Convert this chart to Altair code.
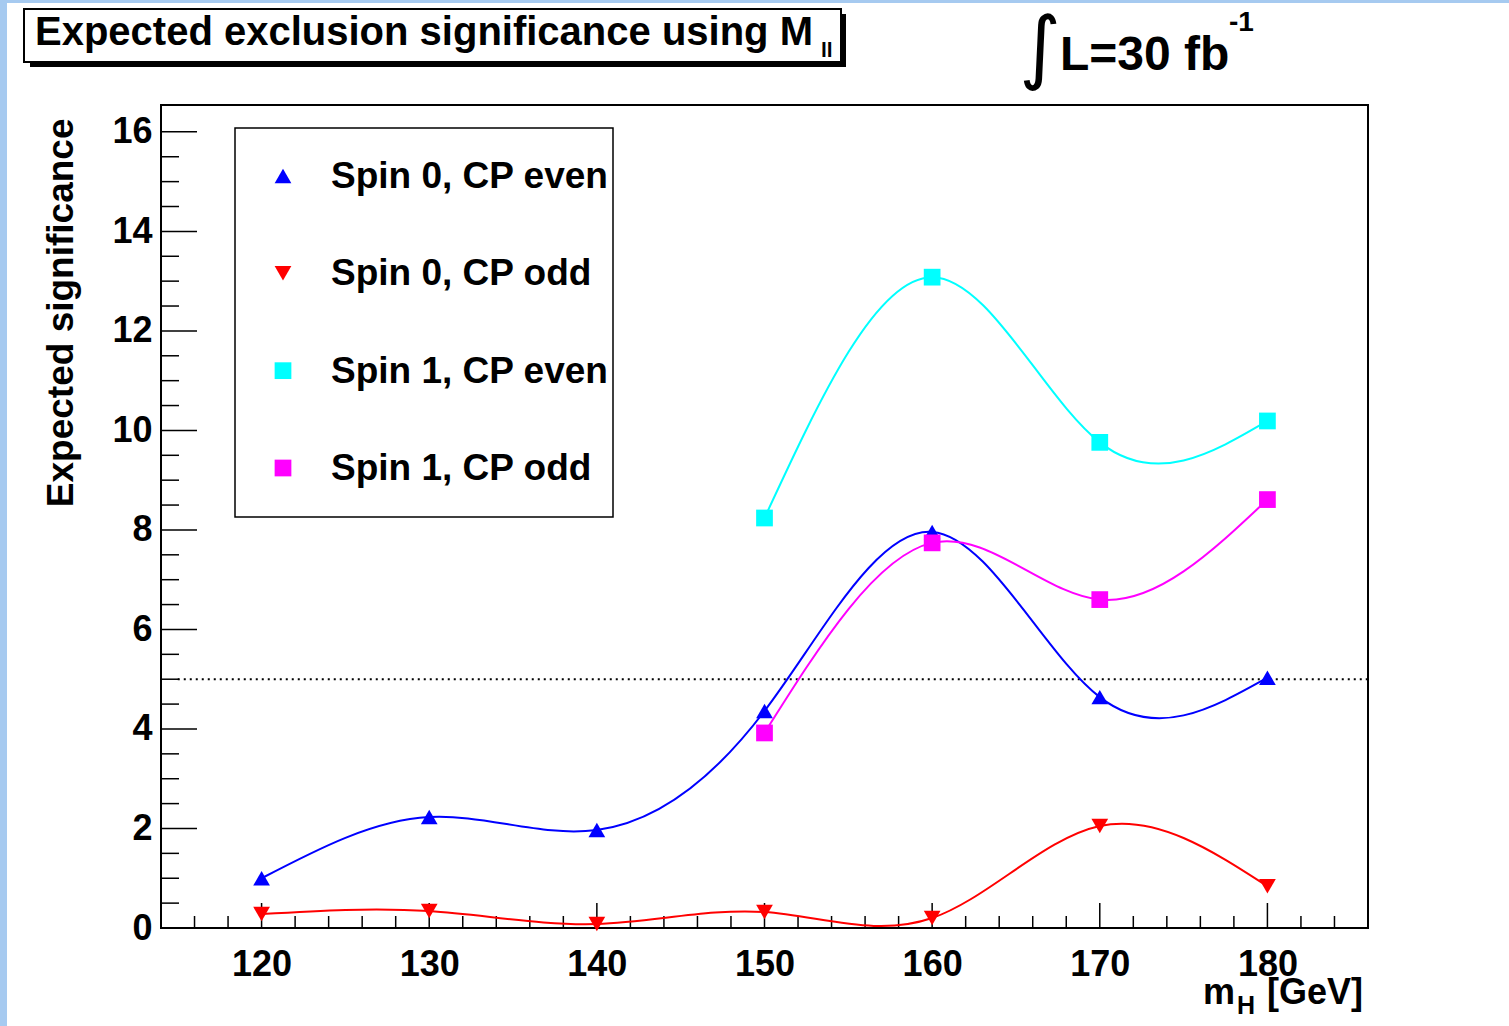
import altair as alt
import pandas as pd

# ---------------- data ----------------
masses = [120, 130, 140, 150, 160, 170, 180]
spin0_even = [1.00, 2.23, 1.97, 4.36, 7.96, 4.64, 5.03]
spin0_odd = [0.28, 0.34, 0.08, 0.32, 0.20, 2.05, 0.84]
masses_spin1 = [150, 160, 170, 180]
spin1_even = [8.24, 13.08, 9.76, 10.19]
spin1_odd = [3.92, 7.74, 6.60, 8.61]

series_names = ["Spin 0, CP even", "Spin 0, CP odd", "Spin 1, CP even", "Spin 1, CP odd"]
series_colors = ["#0000ff", "#ff0000", "#00ffff", "#ff00ff"]
series_shapes = ["triangle-up", "triangle-down", "square", "square"]

x_major = [120, 130, 140, 150, 160, 170, 180]
x_minor = [v for v in range(116, 186, 2) if v % 10 != 0]
y_major = [0, 2, 4, 6, 8, 10, 12, 14, 16]
y_minor = [v / 2 for v in range(1, 33) if v % 4 != 0]
threshold = 5
threshold_x = [115, 186]

x_domain = [114, 186]
y_domain = [0, 16.54]

# ---------------- layout ----------------
W, H = 1207, 823
PL, PT = 161, 105
FONT = "Liberation Sans"

rows = []
for s, xs_, ys_ in [
    (series_names[0], masses, spin0_even),
    (series_names[1], masses, spin0_odd),
    (series_names[2], masses_spin1, spin1_even),
    (series_names[3], masses_spin1, spin1_odd),
]:
    for a, b in zip(xs_, ys_):
        rows.append({"series": s, "line_series": s, "mass": a, "sig": b})
df = pd.DataFrame(rows)
legend_df = pd.DataFrame({"series": series_names})

xscale = alt.Scale(domain=x_domain, nice=False, zero=False)
yscale = alt.Scale(domain=y_domain, nice=False, zero=False)
color_scale = alt.Scale(domain=series_names, range=series_colors)
shape_scale = alt.Scale(domain=series_names, range=series_shapes)

xaxis = alt.Axis(values=x_major, title=None, ticks=False, domain=False, grid=False,
                 labelFont=FONT, labelFontSize=36, labelFontWeight="bold", labelColor="black",
                 labelPadding=47, labelBaseline="alphabetic", tickSize=0, labelFlush=False)
yaxis = alt.Axis(values=y_major, ticks=False, domain=False, grid=False, tickSize=0,
                 labelFont=FONT, labelFontSize=36, labelFontWeight="bold", labelColor="black",
                 labelPadding=9, labelBaseline="middle", labelFlush=False,
                 title="Expected significance", titleFont=FONT, titleFontSize=37,
                 titleFontWeight="bold", titleColor="black", titleAngle=270,
                 titleAlign="right", titleBaseline="alphabetic", titleX=-89, titleY=13)

X = lambda f: alt.X(f, scale=xscale, axis=xaxis)
Y = lambda f: alt.Y(f, scale=yscale, axis=yaxis)

one = pd.DataFrame({"a": [0]})

# decorations (outside plot)
strip_left = alt.Chart(one).mark_rect(color="#a6caf0").encode(
    x=alt.value(-PL), x2=alt.value(-PL + 7), y=alt.value(-PT), y2=alt.value(1026 - PT))
strip_top = alt.Chart(one).mark_rect(color="#a6caf0").encode(
    x=alt.value(-PL), x2=alt.value(1509 - PL), y=alt.value(-PT), y2=alt.value(-PT + 3))
title_shadow = alt.Chart(one).mark_rect(color="black").encode(
    x=alt.value(30 - PL), x2=alt.value(846 - PL), y=alt.value(14 - PT), y2=alt.value(67 - PT))
title_box = alt.Chart(one).mark_rect(fill="white", stroke="black", strokeWidth=2).encode(
    x=alt.value(24 - PL), x2=alt.value(841 - PL), y=alt.value(9 - PT), y2=alt.value(62 - PT))
legend_box = alt.Chart(one).mark_rect(fill="white", stroke="black", strokeWidth=1.5).encode(
    x=alt.value(235 - PL), x2=alt.value(613 - PL), y=alt.value(128 - PT), y2=alt.value(517 - PT))


def txt(text, x, y, size, align="left", font=FONT, weight="bold"):
    return alt.Chart(one).mark_text(
        text=text, font=font, fontSize=size, fontWeight=weight, align=align,
        baseline="alphabetic", color="black").encode(x=alt.value(x - PL), y=alt.value(y - PT))


title_main = txt("Expected exclusion significance using M", 35, 45, 40)
title_sub = txt("ll", 821, 57, 21)
lumi_int = txt("\u222b", 1040, 74, 80, align="center", font="DejaVu Sans", weight="normal")
lumi_main = txt("L=30 fb", 1060, 70, 48)
lumi_sup = txt("-1", 1229, 31, 28)
xt_m = txt("m", 1203, 1004, 36)
xt_h = txt("H", 1237, 1014, 25)
xt_gev = txt("[GeV]", 1363, 1004, 36, align="right")

# ticks (inside the frame)
xmaj = alt.Chart(pd.DataFrame({"v": x_major})).mark_rule(color="black", strokeWidth=1.5).encode(
    x=X("v:Q"), y=alt.value(H), y2=alt.value(H - 25))
xmin = alt.Chart(pd.DataFrame({"v": x_minor})).mark_rule(color="black", strokeWidth=1.5).encode(
    x=X("v:Q"), y=alt.value(H), y2=alt.value(H - 12))
ymaj = alt.Chart(pd.DataFrame({"v": y_major})).mark_rule(color="black", strokeWidth=1.5).encode(
    y=Y("v:Q"), x=alt.value(0), x2=alt.value(36))
ymin = alt.Chart(pd.DataFrame({"v": y_minor})).mark_rule(color="black", strokeWidth=1.5).encode(
    y=Y("v:Q"), x=alt.value(0), x2=alt.value(18))

thr = alt.Chart(pd.DataFrame({"x": [threshold_x[0]], "x2": [threshold_x[1]], "y": [threshold]})).mark_rule(
    color="black", strokeWidth=2, strokeDash=[2, 4]).encode(x=X("x:Q"), x2="x2:Q", y=Y("y:Q"))

lines = alt.Chart(df).mark_line(strokeWidth=2, interpolate="natural").encode(
    x=X("mass:Q"), y=Y("sig:Q"),
    stroke=alt.Stroke("line_series:N", scale=color_scale, legend=None),
)

points = alt.Chart(df).mark_point(filled=True, opacity=1, size=280, strokeWidth=0).encode(
    x=X("mass:Q"), y=Y("sig:Q"),
    color=alt.Color("series:N", scale=color_scale, legend=None),
    shape=alt.Shape("series:N", scale=shape_scale, legend=None),
)

main = alt.layer(
    strip_left, strip_top, title_shadow, title_box, legend_box,
    xmin, xmaj, ymin, ymaj, thr, lines, points,
    title_main, title_sub, lumi_int, lumi_main, lumi_sup, xt_m, xt_h, xt_gev,
)

# legend entries: rows placed by a point scale inside the legend frame
leg_y = alt.Y("series:N", scale=alt.Scale(domain=series_names, range=[176 - PT, 468 - PT], padding=0),
              axis=None)
leg_sym = alt.Chart(legend_df).mark_point(filled=True, opacity=1, size=280, strokeWidth=0).encode(
    x=alt.value(283 - PL), y=leg_y,
    color=alt.Color("series:N", scale=color_scale, legend=None),
    shape=alt.Shape("series:N", scale=shape_scale, legend=None),
)
leg_txt = alt.Chart(legend_df).mark_text(
    font=FONT, fontSize=37, fontWeight="bold", align="left", baseline="middle", color="black", dy=1
).encode(x=alt.value(331 - PL), y=leg_y, text="series:N")
leg = alt.layer(leg_sym, leg_txt)

chart = alt.layer(main, leg).resolve_scale(y="independent").properties(
    width=W, height=H,
    autosize=alt.AutoSizeParams(type="none"),
    padding={"left": PL, "top": PT, "right": 1509 - PL - W, "bottom": 1026 - PT - H},
    background="white",
).configure_view(stroke="black", strokeWidth=2)

chart.save("out.html", embed_options={"renderer": "svg", "actions": False})
